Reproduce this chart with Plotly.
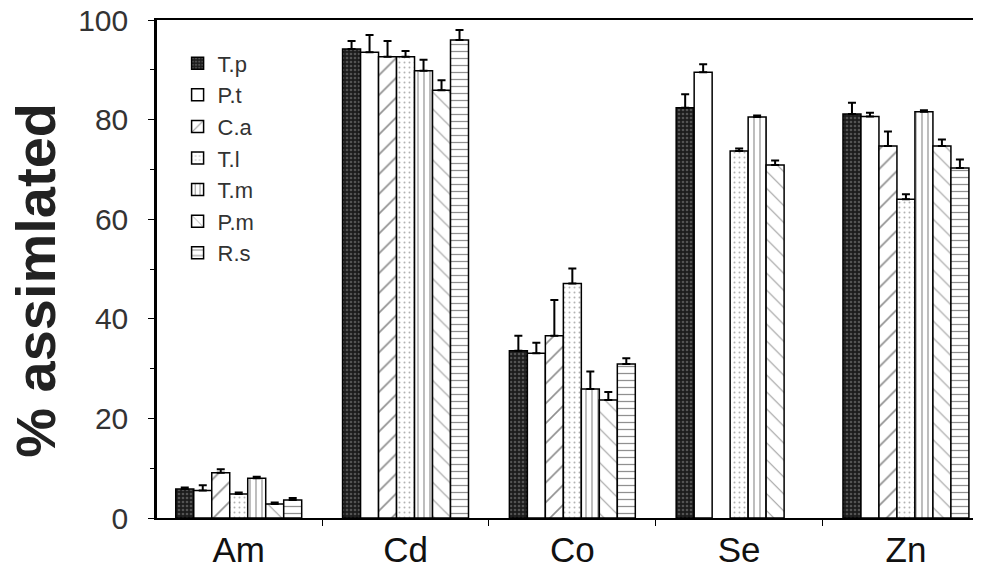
import plotly.graph_objects as go

elements = ["Am", "Cd", "Co", "Se", "Zn"]
species = ["T.p", "P.t", "C.a", "T.l", "T.m", "P.m", "R.s"]

# % assimilated per species (rows) for each element (columns)
tp = [5.8, 94.2, 33.6, 82.4, 81.1]
pt = [5.5, 93.5, 33.1, 89.5, 80.6]
ca = [9.1, 92.6, 36.6, None, 74.7]
tl = [4.8, 92.6, 47.1, 73.7, 64.0]
tm = [8.0, 89.8, 25.9, 80.5, 81.6]
pm = [2.8, 85.9, 23.7, 70.9, 74.7]
rs = [3.6, 96.0, 30.9, None, 70.3]

tp_err = [0.3, 1.6, 3.0, 2.7, 2.3]
pt_err = [1.1, 3.5, 2.1, 1.6, 0.8]
ca_err = [0.7, 3.2, 7.2, None, 2.9]
tl_err = [0.3, 1.2, 3.0, 0.5, 1.0]
tm_err = [0.3, 2.2, 3.5, 0.3, 0.3]
pm_err = [0.3, 2.0, 1.6, 0.9, 1.3]
rs_err = [0.4, 2.0, 1.2, None, 1.7]

y_title = "% assimlated"

values = [tp, pt, ca, tl, tm, pm, rs]
errors = [tp_err, pt_err, ca_err, tl_err, tm_err, pm_err, rs_err]

patterns = [
    dict(shape=".", bgcolor="#1c1c1c", fgcolor="#8a8a8a", size=4, solidity=0.35),
    dict(shape="", bgcolor="white", fgcolor="black"),
    dict(shape="/", bgcolor="white", fgcolor="#222", size=14, solidity=0.12),
    dict(shape=".", bgcolor="white", fgcolor="#666", size=5, solidity=0.12),
    dict(shape="|", bgcolor="white", fgcolor="#222", size=6, solidity=0.2),
    dict(shape="\\", bgcolor="white", fgcolor="#444", size=12, solidity=0.1),
    dict(shape="-", bgcolor="white", fgcolor="#222", size=7, solidity=0.18),
]

fig = go.Figure()
for name, vals, errs, pat in zip(species, values, errors, patterns):
    fig.add_trace(go.Bar(
        name=name,
        x=elements,
        y=vals,
        marker=dict(color="white", pattern=pat, line=dict(color="black", width=1.5)),
        error_y=dict(type="data", symmetric=False, array=errs,
                     arrayminus=[0] * len(errs), color="black",
                     thickness=2, width=4),
    ))

fig.add_annotation(
    text=f"<b>{y_title}</b>", textangle=-90,
    xref="paper", yref="paper", x=-0.147, y=0.478,
    xanchor="center", yanchor="middle", showarrow=False,
    font=dict(size=56, color="#222"),
)

fig.update_layout(
    width=981, height=572,
    margin=dict(l=149, r=8, t=12, b=62, autoexpand=False),
    paper_bgcolor="white", plot_bgcolor="white",
    barmode="group", bargap=0.245, bargroupgap=0,
    font=dict(family="Liberation Sans, Arial, sans-serif", color="#222"),
    showlegend=True,
    legend=dict(x=0.025, y=0.955, xanchor="left", yanchor="top",
                font=dict(size=22, color="#333"), bgcolor="rgba(0,0,0,0)",
                tracegroupgap=0, itemwidth=30),
    xaxis=dict(
        type="category", range=[-0.49, 4.45], automargin=False,
        showline=True, linecolor="black", linewidth=1.5, mirror=True,
        ticks="outside", ticklen=6, tickcolor="black", tickson="boundaries",
        tickfont=dict(size=35, color="#111"), ticklabelstandoff=0,
        showgrid=False, zeroline=False,
    ),
    yaxis=dict(
        range=[0, 100], tickvals=[0, 20, 40, 60, 80, 100], automargin=False,
        showline=True, linecolor="black", linewidth=2.5,
        ticks="outside", ticklen=6, tickcolor="black",
        minor=dict(tickvals=[10, 30, 50, 70, 90], ticks="outside", ticklen=4, tickcolor="black"),
        tickfont=dict(size=30, color="#333"), ticklabelstandoff=14,
        ticklabeloverflow="allow",
        showgrid=False, zeroline=False,
    ),
)

fig.write_html("out.html")
